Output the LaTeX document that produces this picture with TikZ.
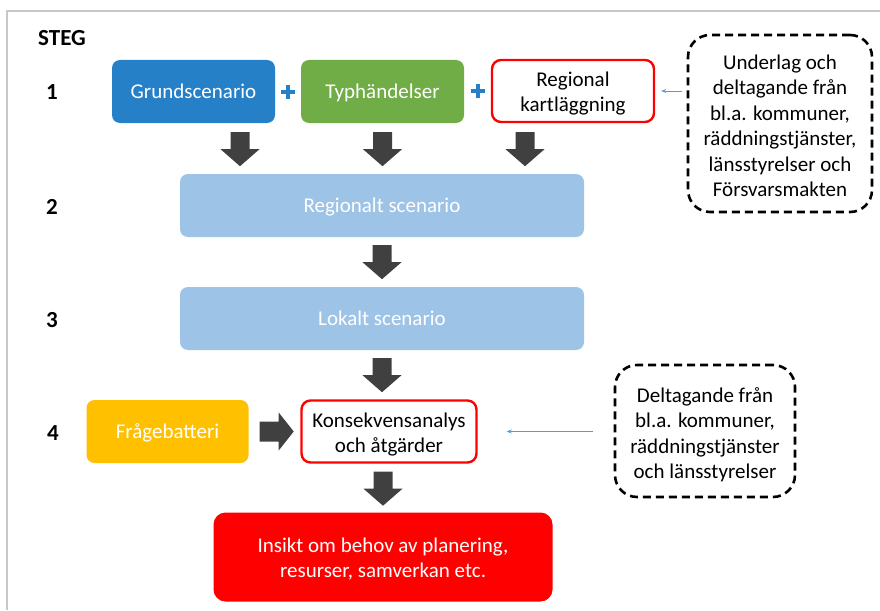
\documentclass[tikz,border=0pt]{standalone}
\usepackage{fontspec}
\setmainfont{Carlito}
\usetikzlibrary{calc,arrows.meta}
\definecolor{gblue}{RGB}{38,128,200}
\definecolor{ggreen}{RGB}{112,173,71}
\definecolor{lblue}{RGB}{157,195,230}
\definecolor{gold}{RGB}{255,192,0}
\definecolor{bred}{RGB}{255,0,0}
\definecolor{arrowgray}{RGB}{64,64,64}
\definecolor{thinblue}{RGB}{91,155,213}
\definecolor{framegray}{RGB}{200,200,200}
\tikzset{
  downarr/.pic={\fill[arrowgray] (-9.5,0) -- (9.5,0) -- (9.5,17) -- (19.5,17) -- (0,34) -- (-19.5,17) -- (-9.5,17) -- cycle;},
  rightarr/.pic={\fill[arrowgray] (0,-10) -- (19,-10) -- (19,-19) -- (34,0) -- (19,19) -- (19,10) -- (0,10) -- cycle;},
}
\begin{document}
\begin{tikzpicture}[x=1pt,y=-1pt,
  txt/.style={font=\fontsize{21}{25.5}\selectfont},
  stepnum/.style={font=\fontsize{23}{27}\selectfont\bfseries},
  box/.style={txt, rounded corners=8pt, align=center, inner sep=0pt, text=white, minimum height=63pt, text height=14pt, text depth=0pt},
  redbox/.style={rounded corners=9pt, inner sep=0pt, draw=bred, line width=2.4pt, fill=white},
  dashbox/.style={rounded corners=22pt, inner sep=0pt, draw=black, line width=2.6pt, dash pattern=on 8pt off 5pt},
  boxtext/.style={txt, align=center, inner sep=0pt},
  thinarrow/.style={thinblue, line width=1pt, -{Stealth[length=5pt,width=4pt]}},
  plus/.style={gblue, line width=4pt},
]
\useasboundingbox (0,0) rectangle (880,610);
% frame
\draw[framegray, line width=1.6pt] (7,610) -- (7,11) -- (880,11);

% labels
\node[stepnum] (steg) at (62,38.5) {STEG};
\node[stepnum] (s1) at (52,92) {1};
\node[stepnum] (s2) at (52,207) {2};
\node[stepnum] (s3) at (52,320) {3};
\node[stepnum] (s4) at (53,433) {4};

% row 1
\node[box, fill=gblue, minimum width=163pt] (g) at (193.5,91.5) {Grundscenario};
\node[box, fill=ggreen, minimum width=163pt] (t) at (382.5,91.5) {Typhändelser};
\node[redbox, minimum width=162pt, minimum height=62pt] (r) at (573,91) {};
\node[boxtext] (rt) at ($(r.center)+(0,2.5)$) {Regional\\kartläggning};
\node[dashbox, minimum width=184pt, minimum height=177pt] (d1) at (780,123.5) {};
\node[boxtext] (d1t) at ($(d1.center)+(0,2.5)$)
  {Underlag och\\deltagande från\\bl.a. kommuner,\\räddningstjänster,\\länsstyrelser och\\Försvarsmakten};

% plus signs
\coordinate (p1) at ($(g.east)!0.5!(t.west)$);
\coordinate (p2) at ($(t.east)!0.5!(r.west)$);
\draw[plus] ($(p1)+(-7,0)$) -- ($(p1)+(7,0)$) ($(p1)+(0,-7)$) -- ($(p1)+(0,7)$);
\draw[plus] ($(p2)+(-7,0)$) -- ($(p2)+(7,0)$) ($(p2)+(0,-7)$) -- ($(p2)+(0,7)$);

% thin arrow into regional
\draw[thinarrow] ($(d1.west |- r.east)+(-5,0)$) -- ($(r.east)+(6,0)$);

% step 2 and 3
\node[box, fill=lblue, minimum width=404pt] (reg) at (382,205.5) {Regionalt scenario};
\node[box, fill=lblue, minimum width=404pt] (lok) at (382,318.5) {Lokalt scenario};

% step 4
\node[box, fill=gold, minimum width=162pt] (fr) at (167.5,431.5) {Frågebatteri};
\node[redbox, minimum width=175pt, minimum height=62pt] (kon) at (389,431.5) {};
\node[boxtext] (kont) at ($(kon.center)+(0,3)$) {Konsekvensanalys\\och åtgärder};
\node[dashbox, minimum width=180pt, minimum height=132pt] (d2) at (705,431) {};
\node[boxtext] (d2t) at ($(d2.center)+(0,3.5)$)
  {Deltagande från\\bl.a. kommuner,\\räddningstjänster\\och länsstyrelser};
\draw[thinarrow] ($(d2.west |- kon.east)+(-21,0)$) -- ($(kon.east)+(29,0)$);

% result
\node[box, fill=bred, minimum width=339pt, minimum height=89pt, rounded corners=12pt] (ins) at (383,557) {};
\node[boxtext, text=white] (inst) at ($(ins.center)+(0,2)$) {Insikt om behov av planering,\\resurser, samverkan etc.};

% block arrows
\path ($(g.south)+(46.5,9)$) pic {downarr};
\path ($(t.south)+(0,9)$) pic {downarr};
\path ($(r.south)+(-48,9)$) pic {downarr};
\path ($(reg.south)+(0,8)$) pic {downarr};
\path ($(lok.south)+(0,8)$) pic {downarr};
\path ($(kon.south -| ins.north)+(0,8)$) pic {downarr};
\path ($(fr.east)+(11,0)$) pic {rightarr};
\end{tikzpicture}
\end{document}
